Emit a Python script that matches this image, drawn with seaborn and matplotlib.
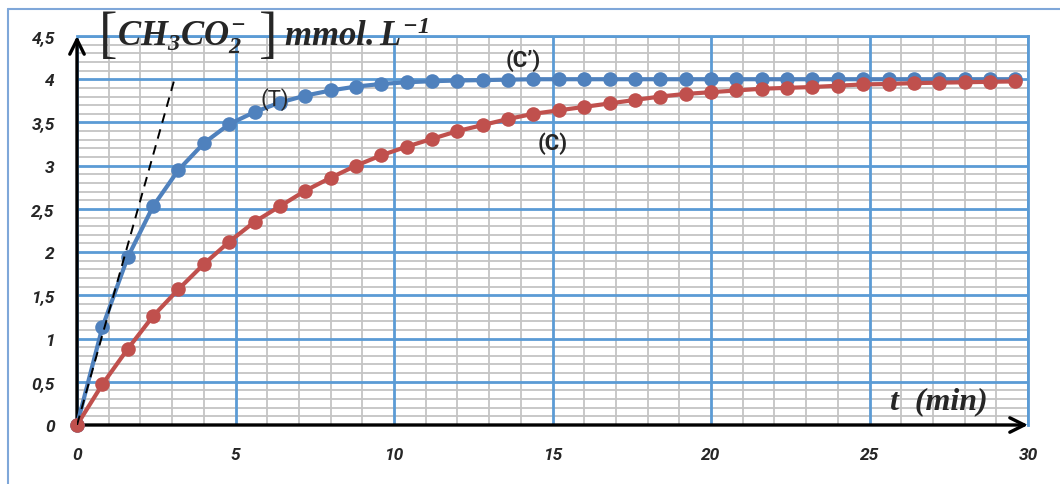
import matplotlib
matplotlib.use("Agg")
import matplotlib.pyplot as plt
import seaborn as sns
import pandas as pd
from matplotlib.lines import Line2D
from matplotlib.ticker import MultipleLocator, FixedLocator, NullFormatter

# ---- data ----
t_min = [0, 0.8, 1.6, 2.4, 3.2, 4.0, 4.8, 5.6, 6.4, 7.2, 8.0, 8.8, 9.6, 10.4,
         11.2, 12.0, 12.8, 13.6, 14.4, 15.2, 16.0, 16.8, 17.6, 18.4, 19.2,
         20.0, 20.8, 21.6, 22.4, 23.2, 24.0, 24.8, 25.6, 26.4, 27.2, 28.0,
         28.8, 29.6]
conc_T = [0, 1.13, 1.94, 2.53, 2.95, 3.26, 3.48, 3.62, 3.73, 3.81, 3.87, 3.915,
          3.945, 3.965, 3.977, 3.985, 3.99, 3.995, 4.0, 4.0, 4.0, 4.0, 4.0, 4.0,
          4.0, 4.0, 4.0, 4.0, 4.0, 4.0, 4.0, 4.0, 4.0, 4.0, 4.0, 4.0, 4.0, 4.0]
conc_C = [0, 0.47, 0.88, 1.26, 1.57, 1.86, 2.12, 2.35, 2.53, 2.71, 2.86, 3.00,
          3.12, 3.22, 3.31, 3.40, 3.47, 3.54, 3.60, 3.64, 3.68, 3.72, 3.76, 3.80,
          3.83, 3.85, 3.87, 3.89, 3.90, 3.91, 3.925, 3.94, 3.945, 3.955, 3.96,
          3.965, 3.97, 3.975]
tangent_t = [0, 3.09]
tangent_c = [0, 4.02]
x_ticks = [0, 5, 10, 15, 20, 25, 30]
x_labels = ["0", "5", "10", "15", "20", "25", "30"]
y_ticks = [0, 0.5, 1, 1.5, 2, 2.5, 3, 3.5, 4, 4.5]
y_labels = ["0", "0,5", "1", "1,5", "2", "2,5", "3", "3,5", "4", "4,5"]

BLUE = "#4F81BD"
RED = "#C0504D"
GRID_BLUE = "#5B9BD5"
GRID_GREY = "#C4C4C4"

sns.set_style("white")
plt.rcParams["font.family"] = ["DejaVu Sans"]
plt.rcParams["mathtext.fontset"] = "custom"
plt.rcParams["mathtext.rm"] = "Liberation Serif:bold:italic"
plt.rcParams["mathtext.it"] = "Liberation Serif:bold:italic"
plt.rcParams["mathtext.bf"] = "Liberation Serif:bold:italic"

fig = plt.figure(figsize=(10.6, 4.85), dpi=100)
fig.patch.set_facecolor("white")
ax = fig.add_axes([77 / 1060, 59 / 485, 951 / 1060, 389 / 485])

df = pd.DataFrame({"t": t_min, "T": conc_T, "C": conc_C})

sns.lineplot(data=df, x="t", y="T", ax=ax, color=BLUE, lw=3.0, marker="o",
             markersize=10.5, markeredgecolor=BLUE, markeredgewidth=0, zorder=4,
             clip_on=False)
sns.lineplot(data=df, x="t", y="C", ax=ax, color=RED, lw=3.0, marker="o",
             markersize=10.5, markeredgecolor=RED, markeredgewidth=0, zorder=5,
             clip_on=False)
ax.plot(tangent_t, tangent_c, color="black", lw=1.4, ls=(0, (5, 3.5)), zorder=6)

ax.set_xlim(0, 30)
ax.set_ylim(0, 4.5)

# grid: grey minor grid underneath, blue major lines on top of it
ax.xaxis.set_major_locator(FixedLocator(x_ticks))
ax.yaxis.set_major_locator(FixedLocator(y_ticks))
ax.xaxis.set_minor_locator(MultipleLocator(1))
ax.yaxis.set_minor_locator(MultipleLocator(0.1))
ax.xaxis.set_minor_formatter(NullFormatter())
ax.yaxis.set_minor_formatter(NullFormatter())
ax.grid(which="minor", color=GRID_GREY, lw=1.3)
ax.grid(which="major", visible=False)
ax.set_axisbelow(True)
for xv in x_ticks:
    ax.axvline(xv, color=GRID_BLUE, lw=2.0, zorder=2)
for yv in y_ticks:
    ax.axhline(yv, color=GRID_BLUE, lw=2.0, zorder=2)

ax.tick_params(which="both", length=0)
ax.set_xticklabels(x_labels)
ax.set_yticklabels(y_labels)
for lab in ax.get_xticklabels() + ax.get_yticklabels():
    lab.set_fontfamily("Roboto")
    lab.set_fontweight("bold")
    lab.set_fontstyle("italic")
    lab.set_fontsize(12.5)
ax.tick_params(axis="x", pad=16)
ax.tick_params(axis="y", pad=16)
ax.set_xlabel("")
ax.set_ylabel("")

for s in ["top", "right"]:
    ax.spines[s].set_color(GRID_BLUE)
    ax.spines[s].set_linewidth(2.0)
for s in ["left", "bottom"]:
    ax.spines[s].set_visible(False)

# axes with arrows
for tip in [(0, 4.5), (30, 0)]:
    ax.annotate("", xy=tip, xytext=(0, 0),
                arrowprops=dict(arrowstyle="->", lw=2.4, color="black",
                                mutation_scale=26, shrinkA=0, shrinkB=0),
                annotation_clip=False, zorder=3)

# curve labels
ax.text(6.25, 3.78, "(T)", fontsize=16, family="Roboto",
        ha="center", va="center", zorder=7)
ax.text(14.07, 4.22, "(C\u2019)", fontsize=16, family="Roboto",
        fontweight="bold", ha="center", va="center", zorder=7)
ax.text(15.0, 3.27, "(C)", fontsize=16, family="Roboto",
        fontweight="bold", ha="center", va="center", zorder=7)

# axis titles
ax.text(27.2, 0.19, "t  (min)", fontsize=23, family="Liberation Serif",
        fontweight="bold", fontstyle="italic", ha="center", va="baseline",
        zorder=7)


def fx(px):
    return px / 1060


def fy(py):
    return 1 - py / 485


fig.text(fx(99), fy(37), "[", fontsize=40, family="Liberation Serif",
         ha="left", va="center")
fig.text(fx(117), fy(46), r"$CH_3CO_2^{-}$", fontsize=25,
         ha="left", va="baseline")
fig.text(fx(259), fy(37), "]", fontsize=40, family="Liberation Serif",
         ha="left", va="center")
fig.text(fx(284), fy(46), r"$mmol.L^{-1}$", fontsize=25,
         ha="left", va="baseline")

# outer chart border
fig.add_artist(Line2D([fx(8), fx(8)], [0, fy(10)],
                      color="#7FA7D9", lw=1.5, transform=fig.transFigure))
fig.add_artist(Line2D([fx(8), 1.0], [fy(10), fy(10)],
                      color="#7FA7D9", lw=1.5, transform=fig.transFigure))

fig.savefig("out.png", dpi=100, facecolor="white")
